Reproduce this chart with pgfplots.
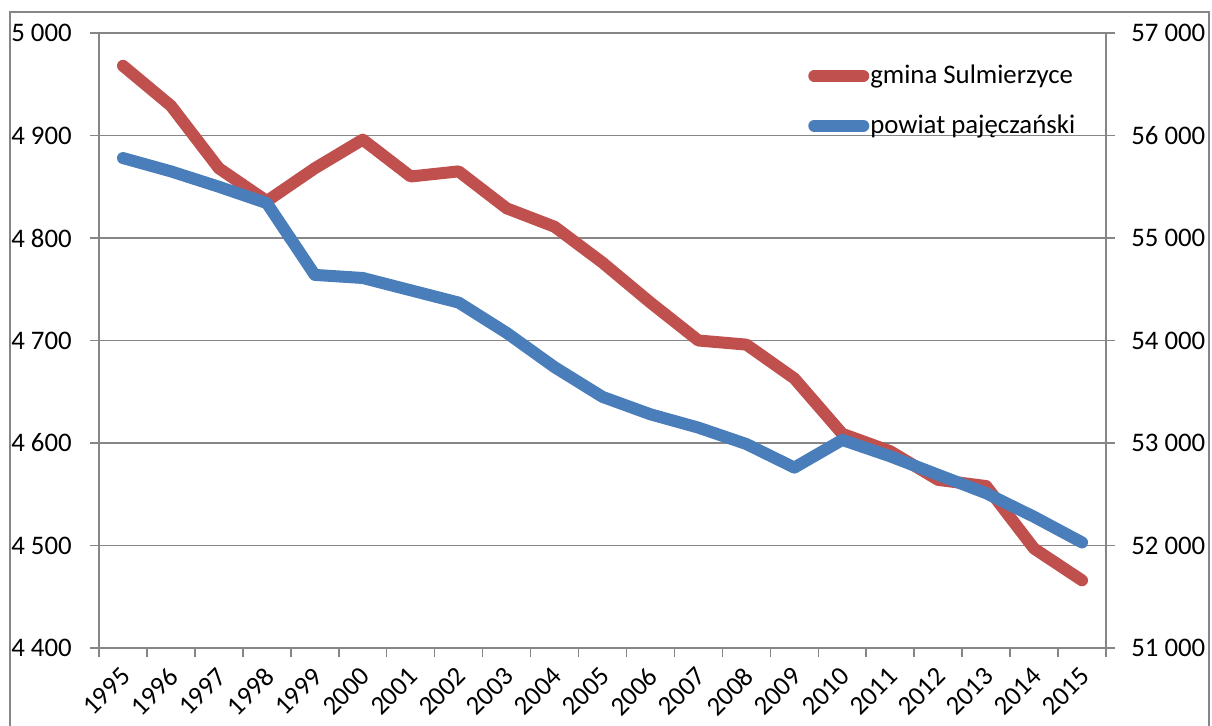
\documentclass[border=0pt]{standalone}
\usepackage{fontspec}
\setmainfont{Carlito}
\usepackage{pgfplots}
\pgfplotsset{compat=1.18}
\definecolor{cred}{HTML}{C0504D}
\definecolor{cblue}{HTML}{4A7EBB}
\definecolor{cgrid}{HTML}{868686}
\begin{document}
\fontsize{13.4}{16}\selectfont
\begin{tikzpicture}
\pgfplotsset{
  base/.style={
    scale only axis, width=503.5pt, height=307.5pt,
    at={(0,0)}, anchor=south west,
    xmin=-0.5, xmax=20.5,
    tick align=outside,
    scaled y ticks=false,
    axis line style={cgrid, line width=0.75pt},
    every tick/.style={cgrid, line width=0.75pt},
    major tick length=4.5pt,
    minor tick length=4.5pt,
    tick label style={font=\fontsize{13.4}{16}\selectfont, text=black},
  }
}
\begin{axis}[base,
  ymin=4400, ymax=5000,
  ytick={4400,4500,...,5000},
  yticklabels={4 400,4 500,4 600,4 700,4 800,4 900,5 000},
  ytick pos=left,
  yticklabel style={xshift=-4.5pt},
  ymajorgrids, grid style={cgrid, line width=0.75pt},
  xtick={0,1,...,20},
  xticklabels={1995,1996,1997,1998,1999,2000,2001,2002,2003,2004,2005,2006,2007,2008,2009,2010,2011,2012,2013,2014,2015},
  xtick pos=bottom,
  major x tick style={draw=none},
  minor xtick={-0.5,0.5,...,20.5},
  xticklabel style={xshift=1.5pt, yshift=-7.5pt, rotate=45, anchor=east, inner sep=0pt},
]
\addplot[cred, line width=6pt, line join=round, line cap=round] coordinates {
(0,4968) (1,4929) (2,4868) (3,4836) (4,4868) (5,4896) (6,4860) (7,4865) (8,4829) (9,4811) (10,4776)
(11,4737) (12,4700) (13,4696) (14,4663) (15,4609) (16,4592) (17,4564) (18,4558) (19,4497) (20,4466)};
\end{axis}
\begin{axis}[base,
  ymin=51000, ymax=57000,
  ytick={51000,52000,...,57000},
  yticklabels={51 000,52 000,53 000,54 000,55 000,56 000,57 000},
  axis y line*=right,
  axis x line=none,
  xtick=\empty,
  yticklabel style={xshift=3.5pt},
  legend image code/.code={\draw[#1, line cap=round] (0pt,0pt) -- (24.5pt,0pt);},
  legend cell align=left,
  legend style={draw=none, fill=none, at={(0.698,0.962)}, anchor=north west,
    font=\fontsize{13.4}{16}\selectfont, row sep=9.5pt, column sep=-1.5pt},
]
\addlegendimage{cred, line width=6pt}
\addlegendentry{gmina Sulmierzyce}
\addplot[cblue, line width=6pt, line join=round, line cap=round] coordinates {
(0,55780) (1,55650) (2,55500) (3,55340) (4,54640) (5,54610) (6,54490) (7,54370) (8,54075) (9,53740) (10,53450)
(11,53280) (12,53150) (13,52990) (14,52760) (15,53030) (16,52870) (17,52690) (18,52510) (19,52280) (20,52030)};
\addlegendentry{powiat pajęczański}
\end{axis}
\draw[cgrid, line width=0.75pt] (-44.5pt,-60pt) -- (-44.5pt,318pt) -- (555pt,318pt) -- (555pt,-60pt);
\pgfresetboundingbox
\path[use as bounding box] (-49.5pt,-38.5pt) rectangle (556.5pt,324pt);
\end{tikzpicture}
\end{document}
